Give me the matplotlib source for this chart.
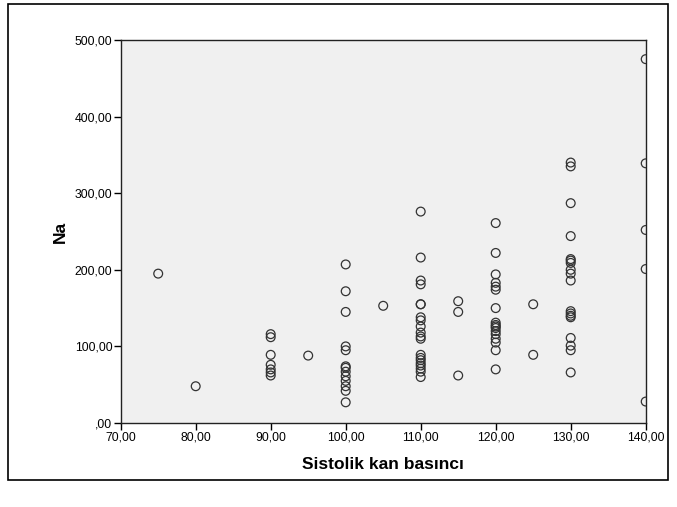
import matplotlib
matplotlib.use("Agg")
import matplotlib.pyplot as plt
from matplotlib.patches import Rectangle
from matplotlib.ticker import FuncFormatter

# Systolic blood pressure groups and the Na values observed in each
sbp_75 = [195]
sbp_80 = [48]
sbp_90 = [116, 112, 89, 76, 70, 66, 62]
sbp_95 = [88]
sbp_100 = [207, 172, 145, 100, 95, 74, 72, 67, 61, 55, 48, 42, 27]
sbp_105 = [153]
sbp_110 = [276, 216, 186, 181, 155, 155, 138, 134, 126, 118, 113, 110,
           89, 85, 82, 78, 75, 71, 67, 60]
sbp_115 = [159, 145, 62]
sbp_120 = [261, 222, 194, 183, 178, 174, 150, 131, 128, 126, 124, 120,
           116, 110, 105, 95, 70]
sbp_125 = [155, 89]
sbp_130 = [340, 335, 287, 244, 214, 212, 209, 200, 195, 186, 146, 143,
           140, 138, 111, 101, 95, 66]
sbp_140 = [475, 339, 252, 201, 28]

groups = {75: sbp_75, 80: sbp_80, 90: sbp_90, 95: sbp_95, 100: sbp_100,
          105: sbp_105, 110: sbp_110, 115: sbp_115, 120: sbp_120,
          125: sbp_125, 130: sbp_130, 140: sbp_140}

x_ticks = [70, 80, 90, 100, 110, 120, 130, 140]
y_ticks = [0, 100, 200, 300, 400, 500]

xs, ys = [], []
for sbp, vals in groups.items():
    xs.extend([sbp] * len(vals))
    ys.extend(vals)

plt.rcParams['font.family'] = ['Liberation Sans', 'DejaVu Sans']

W, H = 677, 507
fig = plt.figure(figsize=(W / 100, H / 100), dpi=100)
fig.patch.set_facecolor('white')

# outer frame around the whole chart
fig.add_artist(Rectangle((8 / W, 1 - 480 / H), 660 / W, 476 / H,
                         transform=fig.transFigure, fill=False,
                         edgecolor='black', linewidth=1.2))

ax = fig.add_axes([120.7 / W, 1 - 423 / H, 525 / W, 383 / H])
ax.set_facecolor('#f0f0f0')

ax.scatter(xs, ys, s=40, facecolors='none', edgecolors='#333333',
           linewidths=0.9, zorder=3)

ax.set_xlim(70, 140)
ax.set_ylim(0, 500)
ax.set_xticks(x_ticks)
ax.set_yticks(y_ticks)


def spss_fmt(v, pos):
    s = f"{v:.2f}".replace('.', ',')
    if s.startswith('0,'):
        s = s[1:]
    return s


ax.xaxis.set_major_formatter(FuncFormatter(spss_fmt))
ax.yaxis.set_major_formatter(FuncFormatter(spss_fmt))
ax.tick_params(axis='both', direction='out', length=5, width=1,
               labelsize=8.8, colors='black', pad=1)

for sp in ax.spines.values():
    sp.set_color('#222222')
    sp.set_linewidth(1.0)

ax.set_xlabel('Sistolik kan basıncı', fontsize=12.5, fontweight='bold',
              labelpad=10)
ax.set_ylabel('Na', fontsize=12.5, fontweight='bold', labelpad=5)

fig.savefig('out.png', dpi=100, facecolor='white')
